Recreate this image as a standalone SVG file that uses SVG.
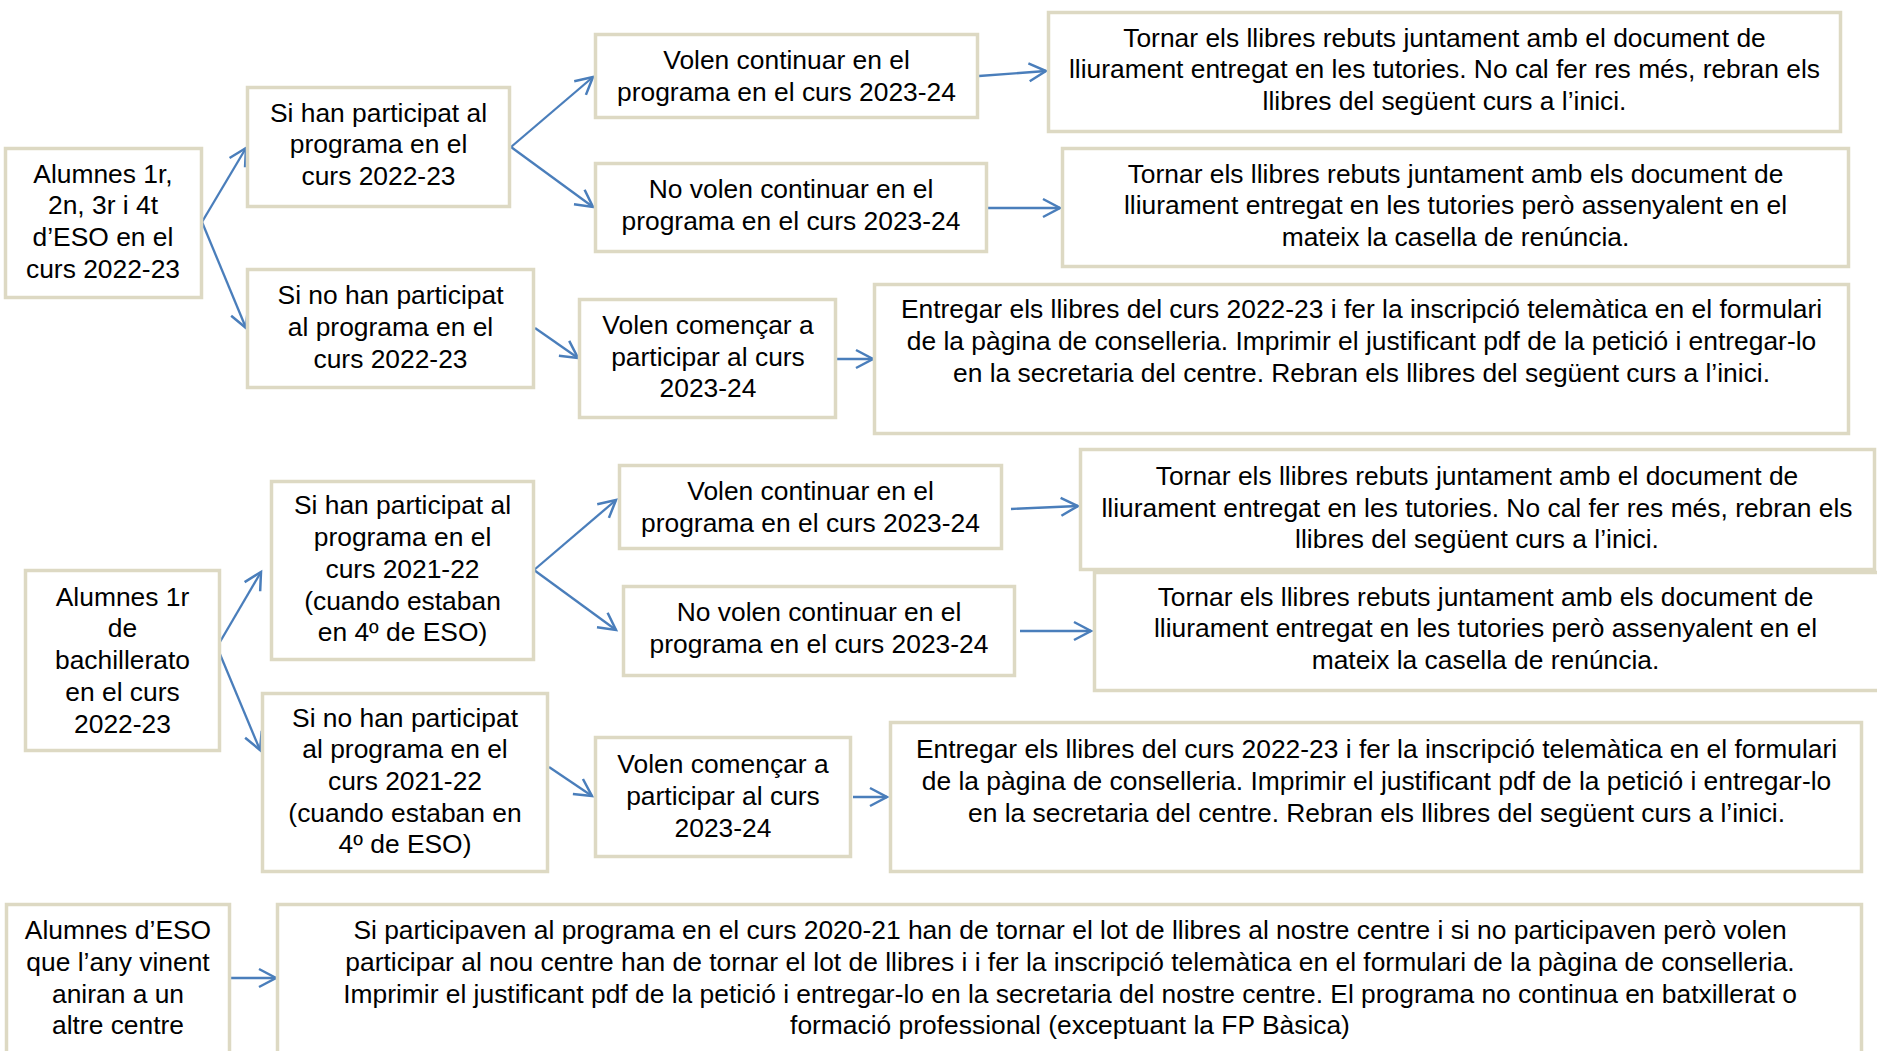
<svg xmlns="http://www.w3.org/2000/svg" width="1877" height="1051" viewBox="0 0 1877 1051">
<style>
.box{fill:#ffffff;stroke:#DDD9C3;stroke-width:3.5}
.t{font-family:"Liberation Sans",Arial,sans-serif;font-size:26.4px;fill:#000;text-anchor:middle}
.c{stroke:#4A7EBB;stroke-width:2.3;fill:none;marker-end:url(#ah)}
</style>
<defs>
<marker id="ah" markerUnits="userSpaceOnUse" markerWidth="40" markerHeight="40" viewBox="-20 -20 40 40" refX="0" refY="0" orient="auto">
<path d="M-17,-9 L0,0 L-17,9" fill="none" stroke="#4A7EBB" stroke-width="2.5"/>
</marker>
</defs>
<rect width="1877" height="1051" fill="#ffffff"/>

<g id="connectors">
<line class="c" x1="202" y1="222" x2="246" y2="148"/>
<line class="c" x1="202" y1="222" x2="246" y2="328"/>
<line class="c" x1="511" y1="147" x2="593" y2="77"/>
<line class="c" x1="511" y1="147" x2="593" y2="207"/>
<line class="c" x1="979" y1="76" x2="1046" y2="71"/>
<line class="c" x1="988" y1="208" x2="1060" y2="208"/>
<line class="c" x1="535" y1="328" x2="578" y2="358"/>
<line class="c" x1="837" y1="359" x2="873" y2="359"/>
<line class="c" x1="217" y1="647" x2="261" y2="572"/>
<line class="c" x1="217" y1="647" x2="260" y2="750"/>
<line class="c" x1="534" y1="570" x2="616" y2="500"/>
<line class="c" x1="534" y1="570" x2="616" y2="630"/>
<line class="c" x1="1011" y1="509" x2="1078" y2="506"/>
<line class="c" x1="1020" y1="631" x2="1091" y2="631"/>
<line class="c" x1="549" y1="767" x2="592" y2="796"/>
<line class="c" x1="853" y1="797" x2="887" y2="797"/>
<line class="c" x1="231" y1="978" x2="276" y2="978"/>
</g>

<g id="A1"><rect class="box" x="5.5" y="148.5" width="196" height="149"/>
<text class="t" x="103"><tspan x="103" y="182.5">Alumnes 1r,</tspan><tspan x="103" y="214.2">2n, 3r i 4t</tspan><tspan x="103" y="246">d’ESO en el</tspan><tspan x="103" y="277.7">curs 2022-23</tspan></text></g>

<g id="B1"><rect class="box" x="247.5" y="87.5" width="262" height="119"/>
<text class="t"><tspan x="378.5" y="121.5">Si han participat al</tspan><tspan x="378.5" y="153.3">programa en el</tspan><tspan x="378.5" y="185">curs 2022-23</tspan></text></g>

<g id="B2"><rect class="box" x="247.5" y="269.5" width="286" height="118"/>
<text class="t"><tspan x="390.5" y="304">Si no han participat</tspan><tspan x="390.5" y="335.8">al programa en el</tspan><tspan x="390.5" y="367.5">curs 2022-23</tspan></text></g>

<g id="C1"><rect class="box" x="595.5" y="34.5" width="382" height="83"/>
<text class="t"><tspan x="786.5" y="69">Volen continuar en el</tspan><tspan x="786.5" y="101">programa en el curs 2023-24</tspan></text></g>

<g id="C2"><rect class="box" x="595.5" y="163.5" width="391" height="88"/>
<text class="t"><tspan x="791" y="198">No volen continuar en el</tspan><tspan x="791" y="230">programa en el curs 2023-24</tspan></text></g>

<g id="C3"><rect class="box" x="579.5" y="299.5" width="256" height="118"/>
<text class="t"><tspan x="708" y="333.7">Volen començar a</tspan><tspan x="708" y="365.5">participar al curs</tspan><tspan x="708" y="397.3">2023-24</tspan></text></g>

<g id="D1"><rect class="box" x="1048.5" y="12.5" width="792" height="119"/>
<text class="t"><tspan x="1444.5" y="46.7">Tornar els llibres rebuts juntament amb el document de</tspan><tspan x="1444.5" y="78.4">lliurament entregat en les tutories. No cal fer res més, rebran els</tspan><tspan x="1444.5" y="110.1">llibres del següent curs a l’inici.</tspan></text></g>

<g id="D2"><rect class="box" x="1062.5" y="148.5" width="786" height="118"/>
<text class="t"><tspan x="1455.5" y="182.7">Tornar els llibres rebuts juntament amb els document de</tspan><tspan x="1455.5" y="214.4">lliurament entregat en les tutories però assenyalent en el</tspan><tspan x="1455.5" y="246.1">mateix la casella de renúncia.</tspan></text></g>

<g id="D3"><rect class="box" x="874.5" y="284.5" width="974" height="149"/>
<text class="t"><tspan x="1361.5" y="318.3">Entregar els llibres del curs 2022-23 i fer la inscripció telemàtica en el formulari</tspan><tspan x="1361.5" y="350">de la pàgina de conselleria. Imprimir el justificant pdf de la petició i entregar-lo</tspan><tspan x="1361.5" y="381.7">en la secretaria del centre. Rebran els llibres del següent curs a l’inici.</tspan></text></g>

<g id="A2"><rect class="box" x="25.5" y="570.5" width="194" height="180"/>
<text class="t"><tspan x="122.5" y="605.7">Alumnes 1r</tspan><tspan x="122.5" y="637.4">de</tspan><tspan x="122.5" y="669.1">bachillerato</tspan><tspan x="122.5" y="700.8">en el curs</tspan><tspan x="122.5" y="732.5">2022-23</tspan></text></g>

<g id="B3"><rect class="box" x="271.5" y="481.5" width="262" height="178"/>
<text class="t"><tspan x="402.5" y="514">Si han participat al</tspan><tspan x="402.5" y="545.9">programa en el</tspan><tspan x="402.5" y="577.7">curs 2021-22</tspan><tspan x="402.5" y="609.6">(cuando estaban</tspan><tspan x="402.5" y="641.4">en 4º de ESO)</tspan></text></g>

<g id="B4"><rect class="box" x="262.5" y="693.5" width="285" height="178"/>
<text class="t"><tspan x="405" y="726.7">Si no han participat</tspan><tspan x="405" y="758.4">al programa en el</tspan><tspan x="405" y="790">curs 2021-22</tspan><tspan x="405" y="821.7">(cuando estaban en</tspan><tspan x="405" y="853.3">4º de ESO)</tspan></text></g>

<g id="C4"><rect class="box" x="619.5" y="465.5" width="382" height="83"/>
<text class="t"><tspan x="810.5" y="500">Volen continuar en el</tspan><tspan x="810.5" y="531.7">programa en el curs 2023-24</tspan></text></g>

<g id="C5"><rect class="box" x="623.5" y="586.5" width="391" height="89"/>
<text class="t"><tspan x="819" y="621">No volen continuar en el</tspan><tspan x="819" y="652.7">programa en el curs 2023-24</tspan></text></g>

<g id="C6"><rect class="box" x="595.5" y="737.5" width="255" height="119"/>
<text class="t"><tspan x="723" y="772.7">Volen començar a</tspan><tspan x="723" y="804.5">participar al curs</tspan><tspan x="723" y="836.5">2023-24</tspan></text></g>

<g id="D4"><rect class="box" x="1080.5" y="449.5" width="794" height="120"/>
<text class="t"><tspan x="1477" y="485">Tornar els llibres rebuts juntament amb el document de</tspan><tspan x="1477" y="516.7">lliurament entregat en les tutories. No cal fer res més, rebran els</tspan><tspan x="1477" y="548.4">llibres del següent curs a l’inici.</tspan></text></g>

<g id="D5"><rect class="box" x="1094.5" y="572.5" width="800" height="118"/>
<text class="t"><tspan x="1485.5" y="605.7">Tornar els llibres rebuts juntament amb els document de</tspan><tspan x="1485.5" y="637.4">lliurament entregat en les tutories però assenyalent en el</tspan><tspan x="1485.5" y="669.1">mateix la casella de renúncia.</tspan></text></g>

<g id="D6"><rect class="box" x="890.5" y="722.5" width="971" height="149"/>
<text class="t"><tspan x="1376.5" y="758.3">Entregar els llibres del curs 2022-23 i fer la inscripció telemàtica en el formulari</tspan><tspan x="1376.5" y="790">de la pàgina de conselleria. Imprimir el justificant pdf de la petició i entregar-lo</tspan><tspan x="1376.5" y="821.7">en la secretaria del centre. Rebran els llibres del següent curs a l’inici.</tspan></text></g>

<g id="A3"><rect class="box" x="6.5" y="904.5" width="223" height="170"/>
<text class="t"><tspan x="118" y="939.3">Alumnes d’ESO</tspan><tspan x="118" y="971">que l’any vinent</tspan><tspan x="118" y="1002.7">aniran a un</tspan><tspan x="118" y="1034.3">altre centre</tspan></text></g>

<g id="D7"><rect class="box" x="277.5" y="904.5" width="1584" height="170"/>
<text class="t"><tspan x="1070" y="939">Si participaven al programa en el curs 2020-21 han de tornar el lot de llibres al nostre centre i si no participaven però volen</tspan><tspan x="1070" y="970.8">participar al nou centre han de tornar el lot de llibres i i fer la inscripció telemàtica en el formulari de la pàgina de conselleria.</tspan><tspan x="1070" y="1002.6">Imprimir el justificant pdf de la petició i entregar-lo en la secretaria del nostre centre. El programa no continua en batxillerat o</tspan><tspan x="1070" y="1034.4">formació professional (exceptuant la FP Bàsica)</tspan></text></g>
</svg>
